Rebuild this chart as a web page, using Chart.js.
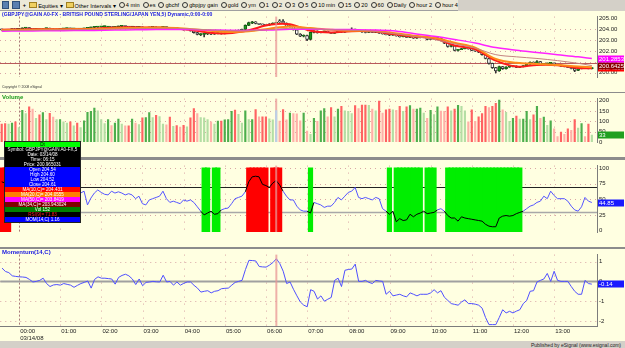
<!DOCTYPE html>
<html lang="en">
<head>
<meta charset="UTF-8">
<title>GBPJPY 5 min</title>
<script src="https://cdn.jsdelivr.net/npm/chart.js"></script>
<style>
  body { margin: 0; width: 625px; height: 348px; position: relative; overflow: hidden;
         background: #d4d0c8; font-family: "Liberation Sans", Arial, sans-serif; }
  canvas { position: absolute; left: 0; background: #ffffe1; }
  .sep { position: absolute; left: 0; width: 625px; background: #8c8c8c; }
  .lbl { position: absolute; left: 2px; font-size: 6px; font-weight: bold; white-space: nowrap; z-index: 5; }
  #toolbar { position: absolute; left: 0; top: 0; width: 456px; height: 10px; background: #ece9d8;
             border-bottom: 1px solid #a0a0a0; display: flex; align-items: center; gap: 3px;
             font-size: 5.6px; color: #000; padding-left: 2px; white-space: nowrap; }
  #toolbar .ico { display: inline-block; width: 6px; height: 6px; background: #5a7fb0; border: 1px solid #30507a; }
  #toolbar .clk { display: inline-block; width: 4px; height: 4px; border: 1px solid #333; border-radius: 50%; margin-right: 1px; vertical-align: -1px; }
  #toolbar .fold { display: inline-block; width: 6px; height: 4px; background: #f0d060; border: 1px solid #a08020; margin-right: 1px; }
  #legendBox { position: absolute; left: 4px; top: 141px; width: 75px; z-index: 6; border: 1px solid #222;
               font-size: 4.6px; line-height: 5px; color: #fff; }
  #legendBox div { height: 5px; text-align: center; white-space: nowrap; overflow: hidden; }
  #footer { position: absolute; right: 4px; top: 342px; font-size: 5px; color: #222; }
</style>
</head>
<body>

<div id="toolbar">
  <span class="ico"></span><span class="ico"></span><span style="font-weight:bold">+</span>
  <span><span class="fold"></span>Equities &#9662;</span>
  <span><span class="fold"></span>Other Intervals &#9662;</span>
  <span><span class="clk"></span>4 min</span>
  <span><span class="clk"></span>es</span>
  <span><span class="clk"></span>gbchf</span>
  <span><span class="clk"></span>gbpjpy gain</span>
  <span><span class="clk"></span>gold</span>
  <span><span class="clk"></span>ym</span>
  <span><span class="clk"></span>1</span>
  <span><span class="clk"></span>2</span>
  <span><span class="clk"></span>3</span>
  <span><span class="clk"></span>5</span>
  <span><span class="clk"></span>10 min</span>
  <span><span class="clk"></span>15</span>
  <span><span class="clk"></span>20</span>
  <span><span class="clk"></span>60</span>
  <span><span class="clk"></span>Daily</span>
  <span><span class="clk"></span>hour 2</span>
  <span><span class="clk"></span>hour 4</span>
</div>

<canvas id="priceChart" width="625" height="81" style="top:11px"></canvas>
<div class="sep" style="top:92px;height:1px"></div>
<canvas id="volChart" width="625" height="64" style="top:93px"></canvas>
<div class="sep" style="top:157px;height:3px"></div>
<canvas id="stochChart" width="625" height="87" style="top:160px"></canvas>
<div class="sep" style="top:247px;height:2px"></div>
<canvas id="momChart" width="625" height="92" style="top:249px"></canvas>

<div class="lbl" style="top:11px;color:#2020e0;transform:scaleX(0.85);transform-origin:left">(GBPJPY@GAIN A0-FX - BRITISH POUND STERLING/JAPAN YEN,5) Dynamic,0:00-0:00</div>
<div class="lbl" style="top:85px;font-size:3.5px;font-weight:normal;color:#333">Copyright &copy; 2008 eSignal</div>
<div class="lbl" style="top:94px;color:#1a9a1a">Volume</div>
<div class="lbl" style="top:249px;color:#2020e0">Momentum(14,C)</div>

<div id="legendBox">
  <div style="background:#00ff00;color:#000">Dt</div>
  <div style="background:#000">Symbol: GBPJPY@GAIN A0-FX,5</div>
  <div style="background:#000">Date: 03/14/08</div>
  <div style="background:#000">Time: 06:15</div>
  <div style="background:#000">Price: 200.965031</div>
  <div style="background:#0000ff">Open 204.54</div>
  <div style="background:#0000ff">High 204.60</div>
  <div style="background:#0000ff">Low 204.52</div>
  <div style="background:#0000ff">Close 204.61</div>
  <div style="background:#ff0000">MA(10,C)= 204.431</div>
  <div style="background:#ff8000">MA(20,C)= 204.0555</div>
  <div style="background:#ff00ff">MA(50,C)= 203.8419</div>
  <div style="background:#800000">MA(34,C)= 203.943024</div>
  <div style="background:#008000">Vol 152</div>
  <div style="background:#000;color:#ff2020">RSI(9)= 71.83</div>
  <div style="background:#0000ff">MOM(14,C) 1.16</div>
</div>

<div id="footer">Published by eSignal (www.esignal.com)</div>

<script>
// ---- session / categories ----
const firstBar = [23, 35];          // first 5 min bar shown
const barStep = 5;
const barCount = 174;
const hourTicks = ['00:00','01:00','02:00','03:00','04:00','05:00','06:00',
                   '07:00','08:00','09:00','10:00','11:00','12:00','13:00'];
const sessionDate = '03/14/08';
const cursorIndex = 80;             // 06:15 bar under the cursor

// ---- price bars ----
const open = [
  203.98,203.95,203.92,203.96,204.02,203.99,204.03,204.09,204.14,204.05,
  203.98,204.04,203.97,204.05,204.09,204.01,203.95,203.99,204.03,204.05,
  204.08,204.03,204.06,204.01,204.04,204.08,204.12,204.16,204.19,204.21,
  204.23,204.20,204.23,204.18,204.22,204.26,204.30,204.25,204.20,204.24,
  204.16,204.21,204.08,204.12,204.17,204.20,204.12,204.16,204.22,204.14,
  204.08,204.11,204.05,203.98,203.95,203.98,203.85,203.68,203.50,203.52,
  203.56,203.63,203.54,203.60,203.66,203.58,203.64,203.71,203.86,203.78,
  203.90,203.98,204.35,204.55,204.68,204.52,204.45,204.40,204.36,204.48,
  204.54,204.78,204.75,204.55,204.25,204.30,203.95,203.55,203.35,203.42,
  203.05,203.70,203.82,203.68,203.75,203.80,203.70,203.62,203.70,203.80,
  203.72,203.82,203.90,204.00,203.88,203.80,203.74,203.70,203.76,203.70,
  203.75,203.64,203.56,203.50,203.44,203.48,203.38,203.30,203.34,203.24,
  203.28,203.17,203.21,203.25,203.28,203.05,203.10,203.14,203.18,202.95,
  202.70,202.40,202.46,202.05,202.12,202.20,202.26,202.18,202.05,201.98,
  201.88,201.65,201.30,200.85,200.45,200.15,200.55,200.35,200.50,200.56,
  200.60,200.48,200.55,200.62,200.78,200.95,200.85,201.02,200.75,200.80,
  200.84,200.88,200.72,200.66,200.60,200.55,200.48,200.38,200.20,200.35,
  200.48,200.42,200.36
];
const close = [
  203.94,203.92,203.97,204.02,203.99,204.03,204.10,204.14,204.05,203.98,
  204.04,203.97,204.06,204.09,204.01,203.95,203.99,204.03,204.06,204.08,
  204.03,204.06,204.01,204.04,204.09,204.13,204.16,204.20,204.22,204.24,
  204.25,204.23,204.18,204.22,204.27,204.30,204.25,204.20,204.24,204.16,
  204.21,204.08,204.12,204.17,204.20,204.12,204.16,204.22,204.14,204.08,
  204.11,204.05,203.98,203.95,203.98,203.85,203.68,203.52,203.56,203.58,
  203.63,203.54,203.60,203.66,203.58,203.64,203.71,203.86,203.78,203.90,
  203.98,204.35,204.62,204.68,204.52,204.45,204.40,204.36,204.48,204.55,
  204.61,204.66,204.55,204.25,204.30,203.95,203.55,203.35,203.42,203.05,
  203.70,203.82,203.68,203.75,203.80,203.70,203.62,203.70,203.80,203.72,
  203.82,203.90,204.00,203.88,203.80,203.74,203.70,203.76,203.70,203.75,
  203.64,203.56,203.50,203.44,203.48,203.38,203.30,203.34,203.24,203.28,
  203.17,203.21,203.25,203.28,203.05,203.10,203.14,203.18,202.95,202.70,
  202.40,202.46,202.05,202.12,202.20,202.26,202.18,202.05,201.98,201.88,
  201.65,201.30,200.85,200.45,200.15,200.55,200.35,200.50,200.56,200.60,
  200.48,200.55,200.62,200.78,200.95,200.85,201.02,200.75,200.80,200.84,
  200.88,200.72,200.66,200.60,200.55,200.48,200.38,200.20,200.35,200.48,
  200.42,200.36,200.42
];
const high = [
  204.01,203.98,203.99,204.04,204.05,204.05,204.13,204.17,204.16,204.07,
  204.06,204.06,204.08,204.11,204.11,204.03,204.01,204.05,204.08,204.10,
  204.10,204.08,204.07,204.06,204.11,204.15,204.19,204.23,204.25,204.26,
  204.28,204.25,204.25,204.24,204.29,204.33,204.32,204.27,204.26,204.25,
  204.23,204.22,204.14,204.19,204.22,204.21,204.18,204.24,204.23,204.16,
  204.13,204.12,204.06,204.00,204.00,203.99,203.87,203.70,203.60,203.60,
  203.66,203.65,203.62,203.68,203.67,203.66,203.73,203.89,203.88,203.93,
  204.02,204.40,204.66,204.72,204.70,204.55,204.48,204.43,204.51,204.58,
  204.63,204.88,204.88,204.58,204.34,204.32,203.98,203.60,203.48,203.45,
  203.74,203.86,203.84,203.78,203.83,203.82,203.72,203.72,203.83,203.82,
  203.85,203.93,204.12,204.02,203.90,203.82,203.76,203.78,203.78,203.77,
  203.77,203.66,203.58,203.52,203.51,203.50,203.40,203.37,203.36,203.31,
  203.30,203.24,203.28,203.31,203.30,203.13,203.17,203.21,203.20,202.97,
  202.72,202.50,202.48,202.15,202.24,202.30,202.28,202.20,202.07,202.00,
  201.90,201.68,201.33,200.88,200.48,200.60,200.58,200.54,200.59,200.63,
  200.62,200.58,200.65,200.82,200.99,200.98,201.10,201.04,200.83,200.87,
  200.92,200.90,200.74,200.68,200.62,200.57,200.50,200.40,200.38,200.52,
  200.50,200.44,200.45
];
const low = [
  203.92,203.89,203.90,203.94,203.97,203.97,204.01,204.07,204.02,203.95,
  203.96,203.95,203.95,204.03,203.99,203.92,203.93,203.97,204.01,204.03,
  204.01,204.01,203.99,203.99,204.02,204.06,204.10,204.14,204.17,204.19,
  204.21,204.18,204.16,204.16,204.20,204.24,204.23,204.18,204.18,204.14,
  204.14,204.06,204.06,204.10,204.15,204.10,204.10,204.14,204.12,204.06,
  204.06,204.03,203.96,203.92,203.93,203.82,203.64,203.46,203.40,203.28,
  203.50,203.50,203.52,203.57,203.55,203.56,203.62,203.69,203.75,203.76,
  203.88,203.96,204.32,204.50,204.48,204.42,204.37,204.32,204.34,204.46,
  204.52,204.62,204.52,204.20,204.18,203.90,203.50,203.30,203.28,202.95,
  203.02,203.66,203.64,203.65,203.72,203.67,203.58,203.60,203.68,203.69,
  203.70,203.80,203.88,203.85,203.77,203.71,203.66,203.68,203.67,203.68,
  203.61,203.53,203.46,203.41,203.42,203.35,203.27,203.28,203.21,203.22,
  203.14,203.15,203.19,203.23,203.02,203.03,203.08,203.12,202.92,202.66,
  202.35,202.36,202.00,201.98,202.10,202.17,202.15,202.02,201.95,201.84,
  201.60,201.25,200.78,200.38,199.97,200.10,200.30,200.32,200.47,200.53,
  200.45,200.46,200.53,200.60,200.76,200.82,200.83,200.72,200.72,200.78,
  200.82,200.69,200.63,200.57,200.52,200.45,200.34,200.08,200.17,200.33,
  200.39,200.33,200.34
];

// ---- moving averages, read at every sixth bar ----
const maBars = [0,6,12,18,24,30,36,42,48,54,60,66,72,78,84,90,96,102,108,114,120,126,132,138,144,150,156,162,168,172];
const ma10 = [203.95,203.98,204.00,203.99,204.02,204.10,204.18,204.15,204.12,203.98,203.70,203.62,203.90,204.40,204.45,
              203.85,203.70,203.82,203.80,203.55,203.32,203.15,202.50,202.15,201.10,200.55,200.70,200.68,200.42,200.40];
const ma20 = [203.90,203.93,203.96,203.98,204.00,204.05,204.10,204.13,204.14,204.05,203.88,203.75,203.80,204.05,204.25,
              204.10,203.95,203.85,203.85,203.65,203.40,203.20,202.75,202.30,201.25,200.90,200.80,200.70,200.55,200.50];
const ma34 = [203.88,203.90,203.92,203.94,203.96,203.99,204.03,204.06,204.08,204.04,203.95,203.86,203.85,203.96,204.08,
              204.05,203.95,203.90,203.82,203.60,203.35,203.05,202.65,202.25,201.65,201.45,201.30,201.10,200.85,200.6425];
const ma50 = [203.82,203.83,203.85,203.86,203.88,203.90,203.93,203.95,203.97,203.96,203.93,203.90,203.89,203.93,203.99,
              204.00,203.98,203.96,203.93,203.85,203.60,203.35,203.05,202.72,202.30,202.05,201.85,201.65,201.45,201.2853];
const refLevel = 200.92;
const priceTicks = [200, 201, 202, 203, 204, 205];

// ---- volume ----
const volume = [
  87,89,87,92,98,70,153,137,170,159, 114,131,142,109,139,120,109,109,98,92,
  98,78,92,70,103,144,148,164,151,109, 89,109,80,92,111,87,78,78,111,92,
  84,117,118,142,118,129,123,87,83,120, 76,79,72,81,73,117,162,137,118,117,
  109,98,87,101,101,107,109,148,155,134, 92,151,109,109,157,122,122,122,112,107,
  152,101,157,107,140,137,136,103,140,53, 37,114,100,151,162,122,167,122,159,173,
  151,148,137,176,162,179,179,178,159,151, 198,140,156,159,156,153,173,148,170,176,
  159,159,164,140,114,153,133,170,150,148, 170,151,159,178,173,151,98,156,100,122,
  137,173,167,173,187,203,156,144,100,114, 126,111,111,148,109,131,173,114,120,81,
  103,64,26,48,37,64,56,109,67,89, 26,87,33
];
const volTicks = [0, 50, 100, 150, 200];

// ---- stochastic oscillator ----
const stoch = [
  78,76,72,66,60,55,52,50,48,52, 55,50,47,52,57,55,50,46,50,54,
  58,60,61,60,63,41,52,60,65,61, 58,57,63,60,62,60,57,59,57,51,
  55,43,41,49,51,53,55,63,51,45, 47,45,43,49,47,49,45,38,31,25,
  28,31,26,27,33,35,36,43,51,53, 55,62,78,86,87,86,74,72,69,76,
  80,73,63,55,49,49,39,33,31,31, 28,45,43,41,37,39,39,45,53,49,
  55,61,63,69,53,51,53,51,49,53, 51,35,31,26,31,14,19,16,17,26,
  22,26,28,31,27,28,29,33,35,31, 24,20,20,15,22,20,19,18,17,16,
  15,10,7,6,6,20,23,24,23,24, 27,29,31,35,39,41,45,47,55,51,
  63,56,51,51,51,47,39,33,31,38, 53,47,44.85
];
const stochHigh = 70, stochLow = 30;
const stochTicks = [0, 25, 50, 75, 100];

// ---- momentum(14) ----
const momentum = [
  0.67,0.5,0.44,0.28,0.25,0.23,0.22,0.2,0.1,-0.03, 0,0.05,0.16,-0.11,-0.26,-0.18,-0.16,-0.19,-0.11,-0.15,
  -0.19,-0.3,-0.2,-0.11,-0.05,0.02,-0.34,0.1,0.23,0.16, 0.16,0.14,0.12,-0.14,0.2,0.3,0.36,0.28,0.12,-0.16,
  0.12,-0.22,-0.05,-0.03,0,-0.02,-0.03,0.31,-0.03,0, -0.19,-0.03,-0.19,-0.1,-0.03,-0.03,-0.2,-0.34,-0.54,-0.5,
  -0.47,-0.58,-0.5,-0.47,-0.37,-0.35,-0.34,-0.19,-0.05,0, 0.05,0.6,1.06,1.05,1.03,0.75,0.73,0.72,0.82,0.95,
  1.14,0.9,0.51,-0.11,-0.03,-0.4,-0.73,-1.04,-1.2,-1.28, -0.42,-0.5,-0.89,-0.73,-1,-0.9,-0.81,0.05,0.16,-0.26,
  0.56,0.6,0.62,0.87,0,0,0.05,-0.05,-0.11,0.05, 0.02,0,-0.65,-0.5,-0.73,-0.69,-0.65,-0.73,-0.78,-0.58,
  -0.65,-0.73,-0.65,-0.65,-0.65,-0.58,-0.42,-0.58,-0.47,-0.8, -0.96,-1.12,-1.16,-1.2,-1.04,-0.93,-1.12,-1.12,-1.15,-1.2,
  -1.35,-1.82,-2.18,-2.18,-2.18,-1.82,-1.43,-1.59,-1.51,-1.59, -1.5,-1.43,-1.12,-0.96,-0.5,-0.47,-0.03,0.05,0.12,0.4,
  0,0.51,0.05,0,0,0,-0.26,-0.5,-0.65,-0.65, 0.05,-0.11,-0.14
];
const momTicks = [-2, -1, 0, 1];

// ---- build the bar times ----
const times = [];
for (let i = 0; i < barCount; i++) {
  const m = (firstBar[0] * 60 + firstBar[1] + i * barStep) % 1440;
  times.push(String(Math.floor(m / 60)).padStart(2, '0') + ':' + String(m % 60).padStart(2, '0'));
}

const FONT = 'Liberation Sans';
const AXIS_W = 28;

// dotted grid + hour lines + cursor + level lines
const paneDeco = {
  id: 'paneDeco',
  beforeDatasetsDraw(chart, args, opts) {
    const { ctx, chartArea: a, scales: { x, y } } = chart;
    ctx.save();
    ctx.lineWidth = 1;
    ctx.strokeStyle = '#d9a6a6';
    ctx.setLineDash([1, 4]);
    y.ticks.forEach(t => {
      const py = Math.round(y.getPixelForValue(t.value)) + 0.5;
      if (py < a.top + 2 || py > a.bottom - 2) return;
      ctx.beginPath(); ctx.moveTo(a.left, py); ctx.lineTo(a.right, py); ctx.stroke();
    });
    times.forEach((t, i) => {
      if (!hourTicks.includes(t)) return;
      const px = Math.round(x.getPixelForValue(i)) + 0.5;
      ctx.strokeStyle = t === hourTicks[0] ? '#a87878' : '#d9a6a6';
      ctx.setLineDash(t === hourTicks[0] ? [2, 2] : [1, 6]);
      ctx.beginPath(); ctx.moveTo(px, a.top); ctx.lineTo(px, a.bottom); ctx.stroke();
    });
    ctx.setLineDash([]);
    (opts.levels || []).forEach(l => {
      const py = Math.round(y.getPixelForValue(l.value)) + 0.5;
      ctx.strokeStyle = l.color; ctx.lineWidth = l.width;
      ctx.beginPath(); ctx.moveTo(a.left, py); ctx.lineTo(a.right, py); ctx.stroke();
    });
    if (opts.cursorBehind) drawCursor(chart);
    ctx.restore();
  },
  afterDatasetsDraw(chart, args, opts) {
    if (!opts.cursorBehind) drawCursor(chart);
  },
  afterDraw(chart, args, opts) {
    const { ctx, chartArea: a, scales: { y } } = chart;
    (opts.boxes || []).forEach(b => {
      const py = y.getPixelForValue(b.value);
      ctx.save();
      ctx.fillStyle = b.bg;
      ctx.fillRect(a.right + 1, Math.round(py) - 3.5, AXIS_W - 2, 7);
      ctx.fillStyle = b.fg;
      ctx.font = '6px ' + FONT;
      ctx.textBaseline = 'middle';
      ctx.fillText(b.text, a.right + 2, Math.round(py));
      ctx.restore();
    });
  }
};

function drawCursor(chart) {
  const { ctx, chartArea: a, scales: { x } } = chart;
  const px = x.getPixelForValue(cursorIndex);
  ctx.save();
  ctx.strokeStyle = 'rgba(232,150,150,0.75)';
  ctx.lineWidth = 2;
  ctx.beginPath(); ctx.moveTo(px, a.top); ctx.lineTo(px, a.bottom); ctx.stroke();
  ctx.restore();
}

function yAxis(min, max, ticks, fmt) {
  return {
    position: 'right', min, max,
    afterBuildTicks: s => { s.ticks = ticks.map(v => ({ value: v })); },
    afterFit: s => { s.width = AXIS_W; },
    grid: { display: false, drawTicks: false },
    border: { display: true, color: '#7c7c7c' },
    ticks: { padding: 2, color: '#222', font: { size: 6, family: FONT }, callback: fmt }
  };
}

function xAxis(show) {
  return {
    type: 'category', labels: times, offset: true, display: show,
    grid: { display: false, drawTicks: false },
    border: { display: true, color: '#7c7c7c' },
    afterFit: s => { s.height = 15; },
    ticks: {
      autoSkip: false, maxRotation: 0, minRotation: 0, padding: 2, align: 'start', labelOffset: 1,
      color: '#222', font: { size: 6, family: FONT, lineHeight: 1.15 },
      callback: (v, i) => {
        const t = times[i];
        if (!hourTicks.includes(t)) return '';
        return t === hourTicks[0] ? [t, sessionDate] : t;
      }
    }
  };
}

const baseOpts = {
  responsive: false, animation: false, events: [],
  layout: { padding: 0 },
  plugins: { legend: { display: false }, tooltip: { enabled: false } }
};

function maLine(values, color, width) {
  return {
    type: 'line', data: maBars.map((b, k) => ({ x: times[b], y: values[k] })),
    borderColor: color, borderWidth: width, pointRadius: 0, tension: 0.35, order: 1
  };
}

// ---- price pane ----
const upCandle = close.map((c, i) => c >= open[i]);
new Chart(document.getElementById('priceChart'), {
  type: 'bar',
  data: {
    labels: times,
    datasets: [
      { data: low.map((l, i) => [l, high[i]]), backgroundColor: '#333', barThickness: 1, grouped: false, order: 6 },
      { data: open.map((o, i) => [o, close[i]]), grouped: false, order: 5, barThickness: 3,
        backgroundColor: upCandle.map(u => u ? '#1f9a1f' : '#ffffff'),
        borderColor: upCandle.map(u => u ? '#0f5f0f' : '#333333'),
        borderWidth: 1, borderSkipped: false, minBarLength: 1 },
      maLine(ma34, '#c48080', 1),
      maLine(ma50, '#ff22ff', 1.5),
      maLine(ma20, '#ff8a1a', 2),
      maLine(ma10, '#ff1a1a', 2)
    ]
  },
  options: {
    ...baseOpts,
    scales: { x: xAxis(false), y: yAxis(199.59, 205.16, priceTicks, v => v.toFixed(2)) },
    plugins: {
      ...baseOpts.plugins,
      paneDeco: {
        levels: [{ value: refLevel, color: '#b85a5a', width: 1 }],
        boxes: [
          { value: ma20[ma20.length - 1], bg: '#ff8000', fg: '#fff', text: ma20[ma20.length - 1].toFixed(4) },
          { value: ma10[ma10.length - 1], bg: '#ff0000', fg: '#fff', text: ma10[ma10.length - 1].toFixed(4) },
          { value: ma34[ma34.length - 1], bg: '#8b0000', fg: '#fff', text: String(ma34[ma34.length - 1]) },
          { value: ma50[ma50.length - 1], bg: '#ff00ff', fg: '#fff', text: String(ma50[ma50.length - 1]) }
        ]
      }
    }
  },
  plugins: [paneDeco]
});

// ---- volume pane ----
const volColors = volume.map((v, i) => {
  if (i === cursorIndex) return '#bcd0e6';
  const weaker = i > 0 && v < volume[i - 1];
  return upCandle[i] ? (weaker ? '#b4dea4' : '#4cae4c') : (weaker ? '#ffb0a8' : '#ff6262');
});
new Chart(document.getElementById('volChart'), {
  type: 'bar',
  data: { labels: times, datasets: [{ data: volume, backgroundColor: volColors, barThickness: 1.5 }] },
  options: {
    ...baseOpts,
    scales: { x: xAxis(false), y: yAxis(0, 210, volTicks, v => String(v)) },
    plugins: {
      ...baseOpts.plugins,
      paneDeco: {
        cursorBehind: true,
        boxes: [{ value: volume[volume.length - 1], bg: '#20a020', fg: '#fff', text: String(volume[volume.length - 1]) }]
      }
    }
  },
  plugins: [paneDeco]
});

// ---- stochastic pane ----
const inZone = v => v < stochLow || v > stochHigh;
const zoneColors = stoch.map(v => v > stochHigh ? '#ff0000' : '#00ee00');
new Chart(document.getElementById('stochChart'), {
  type: 'bar',
  data: {
    labels: times,
    datasets: [
      { data: stoch.map(v => inZone(v) ? [-2.4, 100] : null),
        backgroundColor: zoneColors, borderWidth: 0, barThickness: 4.2, inflateAmount: 0.5, order: 3 },
      { type: 'line', data: stoch, borderColor: '#5555ff', borderWidth: 1, pointRadius: 0, order: 1,
        segment: { borderColor: c => (inZone(c.p0.parsed.y) || inZone(c.p1.parsed.y)) ? '#000' : undefined } }
    ]
  },
  options: {
    ...baseOpts,
    scales: { x: xAxis(false), y: yAxis(-2.4, 104, stochTicks, v => String(v)) },
    plugins: {
      ...baseOpts.plugins,
      paneDeco: {
        levels: [{ value: stochHigh, color: '#222', width: 1 }, { value: stochLow, color: '#a8a8a8', width: 1.5 }],
        boxes: [{ value: stoch[stoch.length - 1], bg: '#1a1aff', fg: '#fff', text: String(stoch[stoch.length - 1]) }]
      }
    }
  },
  plugins: [paneDeco]
});

// ---- momentum pane ----
new Chart(document.getElementById('momChart'), {
  type: 'line',
  data: { labels: times, datasets: [{ data: momentum, borderColor: '#4f4fff', borderWidth: 1, pointRadius: 0 }] },
  options: {
    ...baseOpts,
    scales: { x: xAxis(true), y: yAxis(-2.25, 1.35, momTicks, v => String(v)) },
    plugins: {
      ...baseOpts.plugins,
      paneDeco: {
        levels: [{ value: 0, color: '#a0a0a0', width: 2 }],
        boxes: [{ value: momentum[momentum.length - 1], bg: '#1a1aff', fg: '#fff', text: momentum[momentum.length - 1].toFixed(2) }]
      }
    }
  },
  plugins: [paneDeco]
});
</script>
</body>
</html>
